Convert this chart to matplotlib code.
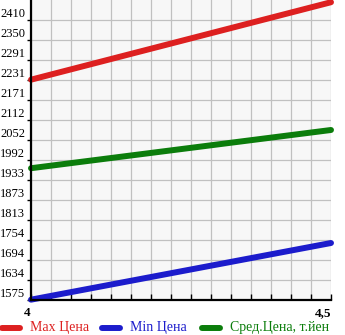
import numpy as np
import matplotlib
matplotlib.use("Agg")
import matplotlib.pyplot as plt
from matplotlib.lines import Line2D
from matplotlib.ticker import FixedLocator, NullFormatter

# price range over the period
x_vals = [4.0, 4.5]
max_price = [2232, 2463]
min_price = [1576, 1745]
avg_price = [1968, 2082]

y_tick_labels = ["1575", "1634", "1694", "1754", "1813", "1873", "1933", "1992",
                 "2052", "2112", "2171", "2231", "2291", "2350", "2410"]
x_tick_labels = ["4", "4,5"]

series_names = ["Max Цена", "Min Цена", "Сред.Цена, т.йен"]
colors = ["#dd2020", "#1c1ccc", "#0b7d0b"]

W, H = 345, 335
fig = plt.figure(figsize=(W / 100, H / 100), dpi=100)
ax = fig.add_axes([31 / W, 35 / H, 300 / W, 300 / H])
ax.set_facecolor("#f7f7f7")

y_ticks = [float(t) for t in y_tick_labels]
step = (y_ticks[-1] - y_ticks[0]) / (len(y_ticks) - 1)
ax.set_ylim(y_ticks[0], y_ticks[-1] + step)
ax.set_xlim(x_vals[0], x_vals[-1])

# grid every 1/15 of the x range
x_grid = np.linspace(x_vals[0], x_vals[-1], 16)
ax.xaxis.set_major_locator(FixedLocator(x_vals))
ax.xaxis.set_minor_locator(FixedLocator(x_grid))
ax.xaxis.set_minor_formatter(NullFormatter())
ax.set_xticklabels(x_tick_labels)
ax.set_yticks(y_ticks)
ax.set_yticklabels(y_tick_labels)

ax.grid(True, which="both", color="#c0c0c0", linewidth=0.9)
ax.set_axisbelow(True)

for vals, c, name in zip([max_price, min_price, avg_price], colors, series_names):
    ax.plot(x_vals, vals, color=c, linewidth=4.3, solid_capstyle="round", label=name,
            clip_on=False)

for s in ["top", "right"]:
    ax.spines[s].set_visible(False)
for s in ["left", "bottom"]:
    ax.spines[s].set_linewidth(1.6)
    ax.spines[s].set_color("black")

ax.tick_params(axis="y", length=3, width=1, pad=1.2, labelsize=9)
ax.tick_params(axis="x", which="both", length=4, width=1, direction="in", pad=5,
               labelsize=9.5)
for lbl in ax.get_yticklabels():
    lbl.set_fontfamily("Liberation Serif")
    lbl.set_verticalalignment("bottom")
for lbl in ax.get_xticklabels():
    lbl.set_fontfamily("Liberation Serif")
    lbl.set_fontweight("bold")
xl = ax.get_xticklabels()
xl[0].set_horizontalalignment("right")
xl[-1].set_horizontalalignment("right")

# legend row under the plot, one slot per series
ly = 1 - 328 / H
for i, (name, c) in enumerate(zip(series_names, colors)):
    x0 = 100 * i
    fig.add_artist(Line2D([(x0 + 2) / W, (x0 + 20) / W], [ly, ly], color=c,
                          linewidth=4.3, solid_capstyle="round"))
    fig.text((x0 + 30) / W, ly, name, color=c, fontsize=10,
             family="Liberation Serif", va="center", ha="left")

fig.savefig("out.png", dpi=100)
